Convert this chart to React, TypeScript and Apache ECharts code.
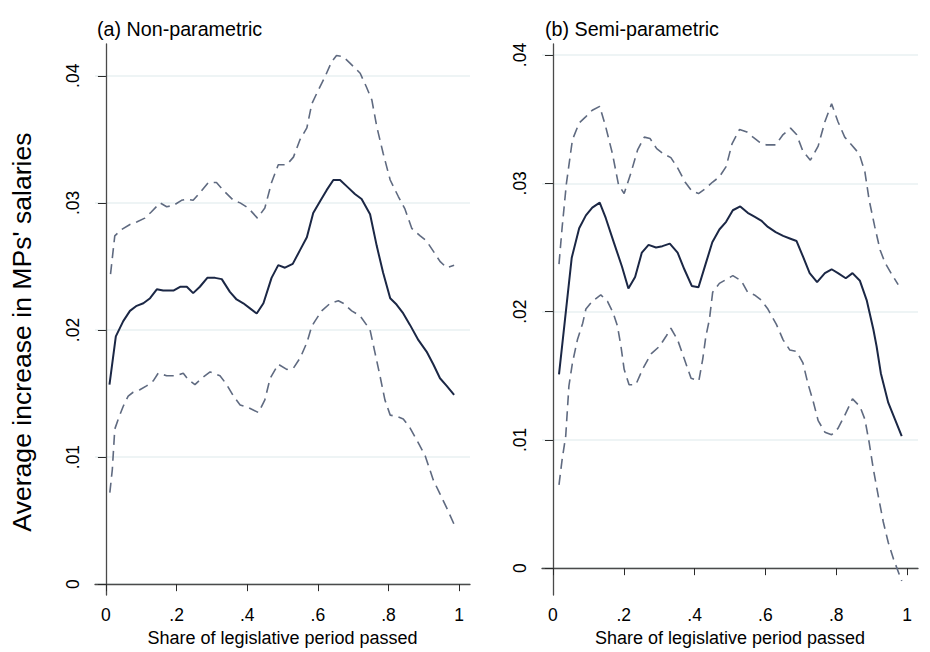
import React, { useEffect, useRef } from "react";
import * as echarts from "echarts";

// (a) Non-parametric: [share of period, value]
const npEstimate: [number, number][] = [
  [0.01, 0.0157], [0.028, 0.0195], [0.049, 0.0207], [0.068, 0.0215], [0.087, 0.0219], [0.106, 0.0221],
  [0.125, 0.0225], [0.144, 0.0232], [0.162, 0.0231], [0.191, 0.0231], [0.21, 0.0234], [0.229, 0.0234],
  [0.247, 0.0229], [0.266, 0.0234], [0.287, 0.0241], [0.309, 0.0241], [0.328, 0.024], [0.351, 0.023],
  [0.37, 0.0224], [0.389, 0.0221], [0.408, 0.0217], [0.427, 0.0213], [0.446, 0.0221], [0.469, 0.0241],
  [0.488, 0.0251], [0.507, 0.0249], [0.529, 0.0252], [0.55, 0.0263], [0.569, 0.0273], [0.587, 0.0292],
  [0.606, 0.0301], [0.625, 0.031], [0.644, 0.0318], [0.663, 0.0318], [0.686, 0.0312], [0.705, 0.0307],
  [0.724, 0.0303], [0.748, 0.0291], [0.767, 0.0266], [0.785, 0.0245], [0.805, 0.0225], [0.823, 0.022],
  [0.842, 0.0213], [0.861, 0.0204], [0.885, 0.0192], [0.908, 0.0183], [0.927, 0.0173], [0.946, 0.0162],
  [0.965, 0.0156], [0.986, 0.0149],
];
const npUpper: [number, number][] = [
  [0.013, 0.0244], [0.025, 0.0274], [0.044, 0.0279], [0.068, 0.0283], [0.087, 0.0285], [0.11, 0.0288],
  [0.129, 0.0293], [0.153, 0.03], [0.172, 0.0297], [0.191, 0.0298], [0.214, 0.0302], [0.229, 0.0303],
  [0.247, 0.0302], [0.266, 0.0308], [0.29, 0.0316], [0.313, 0.0316], [0.332, 0.031], [0.361, 0.0302],
  [0.38, 0.03], [0.403, 0.0296], [0.429, 0.0288], [0.45, 0.0296], [0.469, 0.0316], [0.488, 0.033],
  [0.512, 0.033], [0.531, 0.0336], [0.55, 0.035], [0.569, 0.0359], [0.583, 0.0378], [0.602, 0.0389],
  [0.62, 0.0399], [0.639, 0.0411], [0.653, 0.0416], [0.672, 0.0415], [0.691, 0.041], [0.72, 0.0402],
  [0.738, 0.0391], [0.753, 0.0381], [0.767, 0.036], [0.785, 0.0339], [0.805, 0.0318], [0.828, 0.0305],
  [0.847, 0.0295], [0.866, 0.028], [0.89, 0.0274], [0.908, 0.027], [0.927, 0.0262], [0.946, 0.0254],
  [0.965, 0.0249], [0.986, 0.0251],
];
const npLower: [number, number][] = [
  [0.011, 0.0072], [0.018, 0.009], [0.025, 0.0122], [0.035, 0.013], [0.049, 0.014], [0.063, 0.0148],
  [0.077, 0.0151], [0.096, 0.0153], [0.115, 0.0156], [0.134, 0.016], [0.148, 0.0166], [0.172, 0.0164],
  [0.2, 0.0164], [0.219, 0.0166], [0.233, 0.0161], [0.252, 0.0157], [0.271, 0.0162], [0.295, 0.0167],
  [0.323, 0.0164], [0.342, 0.0157], [0.361, 0.0148], [0.38, 0.0141], [0.403, 0.0139], [0.432, 0.0135],
  [0.45, 0.0145], [0.465, 0.0162], [0.488, 0.0173], [0.512, 0.0169], [0.531, 0.017], [0.55, 0.0178],
  [0.569, 0.019], [0.583, 0.0203], [0.592, 0.0207], [0.611, 0.0215], [0.635, 0.0221], [0.658, 0.0223],
  [0.672, 0.0221], [0.696, 0.0215], [0.72, 0.0211], [0.738, 0.0204], [0.748, 0.02], [0.762, 0.0182],
  [0.776, 0.0164], [0.79, 0.0145], [0.805, 0.0133], [0.823, 0.0132], [0.842, 0.013], [0.861, 0.0123],
  [0.885, 0.0111], [0.904, 0.0101], [0.927, 0.0082], [0.946, 0.0071], [0.965, 0.006], [0.986, 0.0047],
];

// (b) Semi-parametric
const spEstimate: [number, number][] = [
  [0.017, 0.0151], [0.034, 0.0194], [0.053, 0.0242], [0.074, 0.0265], [0.093, 0.0275], [0.111, 0.0281],
  [0.132, 0.0285], [0.149, 0.0273], [0.173, 0.0253], [0.195, 0.0235], [0.213, 0.0218], [0.232, 0.0227],
  [0.251, 0.0246], [0.27, 0.0252], [0.291, 0.025], [0.309, 0.0251], [0.33, 0.0253], [0.352, 0.0246],
  [0.371, 0.0233], [0.392, 0.022], [0.411, 0.0219], [0.431, 0.0237], [0.45, 0.0254], [0.47, 0.0264],
  [0.489, 0.027], [0.508, 0.0279], [0.529, 0.0282], [0.55, 0.0277], [0.569, 0.0274], [0.588, 0.0271],
  [0.607, 0.0266], [0.629, 0.0262], [0.65, 0.0259], [0.669, 0.0257], [0.688, 0.0255], [0.706, 0.0243],
  [0.725, 0.023], [0.746, 0.0223], [0.768, 0.023], [0.787, 0.0233], [0.805, 0.023], [0.827, 0.0226],
  [0.846, 0.023], [0.867, 0.0224], [0.886, 0.0209], [0.905, 0.0186], [0.914, 0.0173], [0.926, 0.0152],
  [0.947, 0.0129], [0.966, 0.0116], [0.985, 0.0103],
];
const spUpper: [number, number][] = [
  [0.017, 0.0237], [0.026, 0.0266], [0.038, 0.03], [0.055, 0.0334], [0.074, 0.0347], [0.093, 0.0352],
  [0.111, 0.0357], [0.132, 0.036], [0.149, 0.0344], [0.168, 0.0323], [0.185, 0.0299], [0.201, 0.0292],
  [0.22, 0.0308], [0.239, 0.0326], [0.258, 0.0336], [0.274, 0.0335], [0.293, 0.0327], [0.312, 0.0323],
  [0.333, 0.032], [0.352, 0.0312], [0.373, 0.0301], [0.392, 0.0294], [0.411, 0.0292], [0.431, 0.0296],
  [0.451, 0.0301], [0.47, 0.0305], [0.489, 0.0313], [0.506, 0.0331], [0.527, 0.0342], [0.548, 0.034],
  [0.565, 0.0336], [0.584, 0.0332], [0.602, 0.033], [0.629, 0.033], [0.65, 0.0338], [0.671, 0.0343],
  [0.688, 0.0338], [0.706, 0.0325], [0.727, 0.0318], [0.749, 0.0329], [0.768, 0.0348], [0.787, 0.0362],
  [0.805, 0.0348], [0.824, 0.0336], [0.843, 0.033], [0.865, 0.0323], [0.881, 0.0309], [0.893, 0.0287],
  [0.909, 0.0266], [0.924, 0.0248], [0.938, 0.0238], [0.957, 0.0229], [0.975, 0.0221],
];
const spLower: [number, number][] = [
  [0.017, 0.0065], [0.026, 0.0085], [0.036, 0.0103], [0.045, 0.0142], [0.055, 0.016], [0.069, 0.0178],
  [0.084, 0.0191], [0.093, 0.0202], [0.111, 0.0208], [0.135, 0.0213], [0.154, 0.0208], [0.17, 0.0199],
  [0.182, 0.0189], [0.192, 0.0173], [0.201, 0.0155], [0.215, 0.0143], [0.234, 0.0143], [0.253, 0.0155],
  [0.277, 0.0167], [0.301, 0.0173], [0.32, 0.0181], [0.333, 0.0187], [0.352, 0.0178], [0.371, 0.0163],
  [0.39, 0.0148], [0.412, 0.0146], [0.423, 0.0163], [0.432, 0.0181], [0.442, 0.0194], [0.451, 0.0215],
  [0.47, 0.0222], [0.489, 0.0225], [0.508, 0.0228], [0.532, 0.0224], [0.55, 0.0215], [0.569, 0.0213],
  [0.588, 0.0209], [0.607, 0.0202], [0.631, 0.019], [0.65, 0.0178], [0.669, 0.017], [0.688, 0.0169],
  [0.706, 0.016], [0.72, 0.0144], [0.735, 0.013], [0.749, 0.0115], [0.768, 0.0106], [0.787, 0.0104],
  [0.805, 0.0109], [0.824, 0.0119], [0.846, 0.0132], [0.867, 0.0126], [0.881, 0.0116], [0.893, 0.0098],
  [0.905, 0.0077], [0.919, 0.0056], [0.933, 0.0036], [0.947, 0.002], [0.962, 0.0007], [0.985, -0.001],
];

const xTicks = [0, 0.2, 0.4, 0.6, 0.8, 1];
const yTicks = [0, 0.01, 0.02, 0.03, 0.04];
const panelTitles = ["(a) Non-parametric", "(b) Semi-parametric"];
const xTitle = "Share of legislative period passed";
const yTitle = "Average increase in MPs' salaries";

const FONT = "'Liberation Sans', Arial, sans-serif";
const AXIS_COLOR = "#4a4a4a";
const TICK_COLOR = "#2a2a2a";
const GRID_COLOR = "#e8f0f2";
const EST_COLOR = "#1b2745";
const CI_COLOR = "#5f6a80";

const fmtX = (v: number) => (v === 0 ? "0" : v === 1 ? "1" : v.toFixed(1).replace(/^0/, ""));
const fmtY = (v: number) => (Math.abs(v) < 1e-9 ? "0" : v.toFixed(2).replace(/^0/, ""));

function xAxisCfg(gridIndex: number) {
  return {
    type: "value",
    gridIndex,
    min: -0.031,
    max: 1.031,
    name: xTitle,
    nameLocation: "middle",
    nameGap: 29,
    nameTextStyle: { fontFamily: FONT, fontSize: 18, color: "#000" },
    axisLine: { show: true, lineStyle: { color: AXIS_COLOR, width: 1.3 } },
    axisTick: { show: true, length: 7, customValues: xTicks, lineStyle: { color: TICK_COLOR } },
    axisLabel: { customValues: xTicks, formatter: fmtX, fontFamily: FONT, fontSize: 17.5, color: "#000", margin: 11 },
    splitLine: { show: false },
  };
}

function yAxisCfg(gridIndex: number, min: number, max: number) {
  return {
    type: "value",
    gridIndex,
    min,
    max,
    axisLine: { show: true, lineStyle: { color: AXIS_COLOR, width: 1.3 } },
    axisTick: { show: true, length: 8, customValues: yTicks, lineStyle: { color: TICK_COLOR } },
    axisLabel: {
      customValues: yTicks,
      formatter: fmtY,
      rotate: 90,
      fontFamily: FONT,
      fontSize: 17.5,
      color: "#000",
      margin: 13,
    },
    splitLine: { show: true, lineStyle: { color: GRID_COLOR, width: 1.5 } },
  };
}

function line(data: [number, number][], idx: number, dashed: boolean) {
  return {
    type: "line",
    xAxisIndex: idx,
    yAxisIndex: idx,
    data,
    symbol: "none",
    silent: true,
    lineStyle: dashed
      ? { color: CI_COLOR, width: 1.6, type: [10, 6] }
      : { color: EST_COLOR, width: 2 },
  };
}

export default function App() {
  const ref = useRef<HTMLDivElement>(null);
  useEffect(() => {
    if (!ref.current) return;
    const chart = echarts.init(ref.current, undefined, { renderer: "svg" });
    chart.setOption({
      animation: false,
      backgroundColor: "#ffffff",
      grid: [
        { left: 95, top: 44, width: 375, height: 552 },
        { left: 542, top: 44, width: 376, height: 552 },
      ],
      xAxis: [xAxisCfg(0), xAxisCfg(1)],
      yAxis: [yAxisCfg(0, -0.00086, 0.0425), yAxisCfg(1, -0.0021, 0.04086)],
      series: [
        line(npUpper, 0, true),
        line(npLower, 0, true),
        line(npEstimate, 0, false),
        line(spUpper, 1, true),
        line(spLower, 1, true),
        line(spEstimate, 1, false),
      ],
      graphic: [
        {
          type: "text",
          left: 97,
          top: 19,
          style: { text: panelTitles[0], fontFamily: FONT, fontSize: 19.7, fill: "#000" },
        },
        {
          type: "text",
          left: 545,
          top: 19,
          style: { text: panelTitles[1], fontFamily: FONT, fontSize: 19.7, fill: "#000" },
        },
        {
          type: "text",
          x: 22,
          y: 332,
          rotation: Math.PI / 2,
          style: {
            text: yTitle,
            fontFamily: FONT,
            fontSize: 26.6,
            fill: "#000",
            align: "center",
            verticalAlign: "middle",
          },
        },
      ],
    });
    return () => chart.dispose();
  }, []);
  return (
    <div
      ref={ref}
      style={{ position: "fixed", left: 0, top: 0, width: 930, height: 652, background: "#fff" }}
    />
  );
}
